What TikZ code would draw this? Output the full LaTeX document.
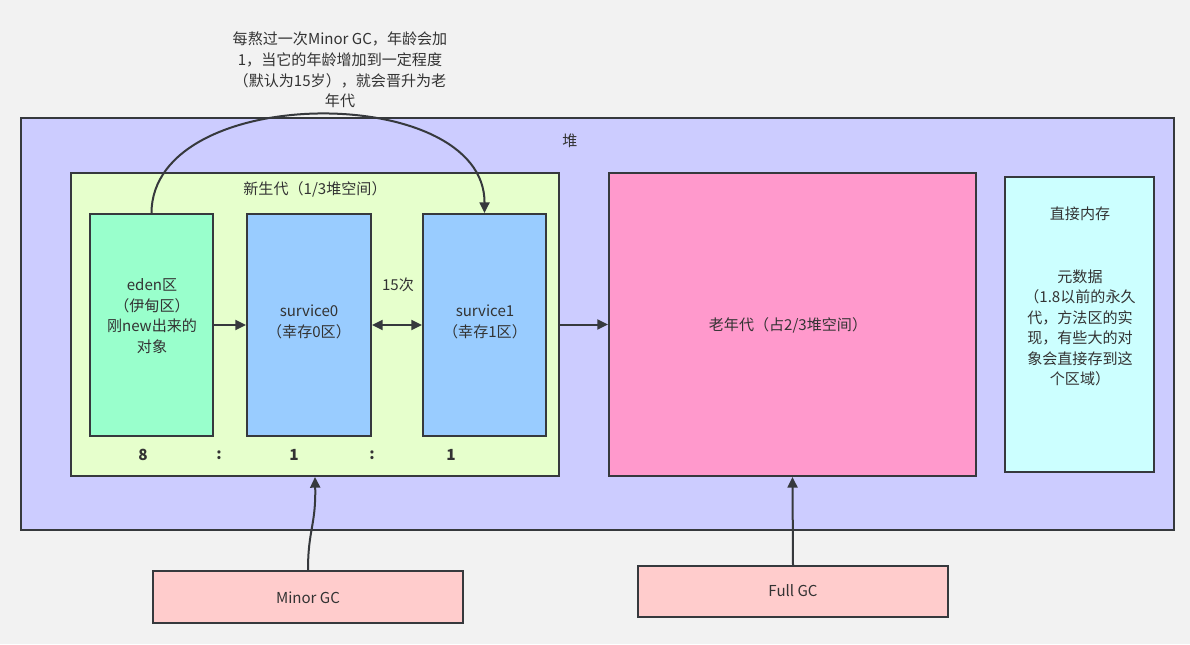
\documentclass[tikz,border=0pt]{standalone}
\usepackage{fontspec}
\setmainfont{Noto Sans CJK SC}
\usetikzlibrary{arrows.meta}
\definecolor{bgc}{HTML}{F2F2F2}
\definecolor{linec}{HTML}{36393D}
\definecolor{txt}{HTML}{333333}
\definecolor{heapc}{HTML}{CCCCFF}
\definecolor{youngc}{HTML}{E6FFCC}
\definecolor{edenc}{HTML}{99FFCC}
\definecolor{survc}{HTML}{99CCFF}
\definecolor{oldc}{HTML}{FF99CC}
\definecolor{directc}{HTML}{CCFFFF}
\definecolor{gcc}{HTML}{FFCCCC}
\tikzset{
  x=0.75pt, y=-0.75pt,
  box/.style={draw=linec, line width=1.5pt, rectangle, inner sep=0pt},
  bw/.style={minimum width=#1*0.75pt},
  bh/.style={minimum height=#1*0.75pt},
  lbl/.style={text=txt, font=\fontsize{11.3pt}{15.4pt}\selectfont, align=center, inner sep=0pt},
  ratio/.style={text=txt, font=\fontsize{11.5pt}{13pt}\selectfont\bfseries, inner sep=0pt},
  conn/.style={draw=linec, line width=1.5pt, -{Triangle[length=8pt,width=7.5pt]}},
  dconn/.style={draw=linec, line width=1.5pt, {Triangle[length=8pt,width=7.5pt]}-{Triangle[length=8pt,width=7.5pt]}},
}
\begin{document}
\begin{tikzpicture}
\fill[bgc] (0,0) rectangle (1190,644);
\useasboundingbox (0,0) rectangle (1190,644);

% heap
\node[box, bw=1153, bh=412, fill=heapc] (heap) at (597.5,324) {};
\node[lbl] (heaplbl) at (570,141) {堆};

% young generation
\node[box, bw=488, bh=303, fill=youngc] (young) at (315,324.5) {};
\node[lbl] (younglbl) at (315,189) {新生代（1/3堆空间）};

\node[box, bw=123, bh=222, fill=edenc] (eden) at (151.5,325) {};
\node[lbl] (edentxt) at (152,316) {eden区\\（伊甸区）\\刚new出来的\\对象};

\node[box, bw=124, bh=222, fill=survc] (s0) at (309,325) {};
\node[lbl] (s0txt) at (309,322) {survice0\\（幸存0区）};

\node[box, bw=123, bh=222, fill=survc] (s1) at (484.5,325) {};
\node[lbl] (s1txt) at (485,322) {survice1\\（幸存1区）};

\node[lbl] (times) at (398,285) {15次};

\node[ratio] (r8) at (143,455) {8};
\node[ratio] (c1) at (219,455) {:};
\node[ratio] (r1a) at (294,455) {1};
\node[ratio] (c2) at (372,455) {:};
\node[ratio] (r1b) at (451,455) {1};

% old generation
\node[box, bw=367, bh=303, fill=oldc] (old) at (792.5,324.5) {};
\node[lbl] (oldtxt) at (788,325) {老年代（占2/3堆空间）};

% direct memory
\node[box, bw=149, bh=295, fill=directc] (direct) at (1079.5,324.5) {};
\node[lbl] (directlbl) at (1080,214) {直接内存};
\node[lbl] (metatxt) at (1080,328) {元数据\\（1.8以前的永久\\代，方法区的实\\现，有些大的对\\象会直接存到这\\个区域）};

% GC boxes
\node[box, bw=310, bh=52, fill=gcc] (minor) at (308,597) {};
\node[lbl] (minortxt) at (308,598) {Minor GC};
\node[box, bw=310, bh=51, fill=gcc] (full) at (793,591.5) {};
\node[lbl] (fulltxt) at (793,591) {Full GC};

% top note
\node[lbl] (note) at (340,70) {每熬过一次Minor GC，年龄会加\\1，当它的年龄增加到一定程度\\（默认为15岁），就会晋升为老\\年代};

% connectors
\draw[conn] (eden.east) -- (s0.west);
\draw[dconn] (s0.east) -- (s1.west);
\draw[conn] (young.east) -- (old.west);
\draw[conn] (eden.north) .. controls (152,82) and (485,82) .. (s1.north);
\draw[conn] (minor.north) .. controls (308,530) and (316,525) .. (young.south);
\draw[conn] (full.north) -- (old.south);
\end{tikzpicture}
\end{document}
